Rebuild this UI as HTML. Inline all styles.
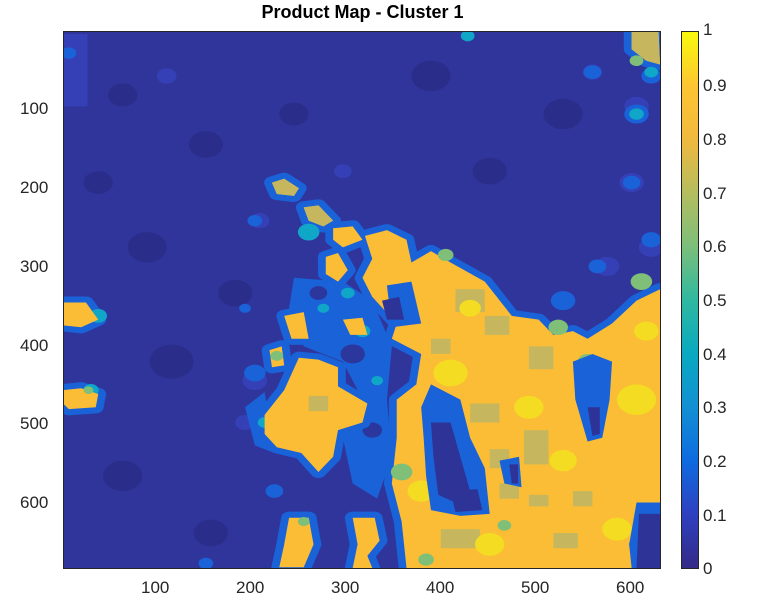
<!DOCTYPE html>
<html><head><style>
body{margin:0;background:#fff;width:769px;height:616px;overflow:hidden;font-family:"Liberation Sans",sans-serif;}
.t{position:absolute;font-size:17px;color:#262626;}
</style></head><body>
<div style="position:absolute;left:0;top:2px;width:725px;text-align:center;font-weight:bold;font-size:18px;color:#000;">Product Map - Cluster 1</div>
<svg style="position:absolute;left:63px;top:31px" width="597" height="537" viewBox="128 32 1220 1410" preserveAspectRatio="none">
<defs>
<g id="Y">
<path d="M128,745 L175,745 L200,790 L165,810 L128,805 Z"/>
<path d="M128,975 L165,970 L200,985 L195,1020 L140,1025 L128,1010 Z"/>
<path d="M555,430 L580,420 L610,445 L600,465 L565,460 Z"/>
<path d="M620,495 L650,490 L680,530 L660,545 L630,530 Z"/>
<path d="M680,550 L720,545 L740,580 L700,600 L680,580 Z"/>
<path d="M665,625 L690,615 L710,660 L690,690 L665,670 Z"/>
<path d="M580,780 L620,770 L630,840 L595,840 Z"/>
<path d="M700,790 L740,785 L750,830 L715,830 Z"/>
<path d="M550,870 L575,860 L580,910 L555,915 Z"/>
<path d="M540,1040 L580,975 L610,890 L650,895 L690,915 L690,965 L750,1010 L740,1060 L690,1080 L680,1150 L650,1190 L615,1140 L565,1125 L540,1090 Z"/>
<path d="M745,570 L790,555 L830,580 L840,640 L880,610 L920,640 L990,690 L1045,780 L1100,790 L1130,830 L1170,820 L1200,840 L1250,800 L1300,740 L1348,710 L1348,1442 L830,1442 L820,1320 L800,1220 L810,1100 L810,1000 L850,960 L860,880 L800,840 L810,800 L760,730 L740,680 L760,630 Z"/>
<path d="M590,1310 L630,1310 L640,1380 L620,1440 L570,1440 L580,1380 Z"/>
<path d="M720,1310 L765,1310 L775,1370 L750,1410 L760,1442 L720,1442 L730,1380 Z"/>
<path d="M1290,35 L1345,35 L1348,120 L1320,110 L1290,80 Z"/>
</g>
</defs>
<rect x="128" y="32" width="1220" height="1410" fill="#30359c"/>
<g fill="#292c86" opacity="0.8">
<circle cx="250" cy="200" r="30"/><circle cx="420" cy="330" r="35"/><circle cx="600" cy="250" r="30"/><circle cx="880" cy="150" r="40"/><circle cx="1000" cy="400" r="35"/><circle cx="300" cy="600" r="40"/><circle cx="350" cy="900" r="45"/><circle cx="250" cy="1200" r="40"/><circle cx="430" cy="1350" r="35"/><circle cx="1150" cy="250" r="40"/><circle cx="200" cy="430" r="30"/><circle cx="480" cy="720" r="35"/></g>
<g fill="#3843bd" opacity="0.8">
<rect x="128" y="40" width="50" height="190"/><circle cx="340" cy="150" r="20"/><circle cx="700" cy="400" r="18"/><circle cx="1210" cy="140" r="20"/><circle cx="1300" cy="230" r="25"/><circle cx="1290" cy="430" r="25"/><circle cx="1330" cy="600" r="25"/><circle cx="530" cy="530" r="20"/><circle cx="1240" cy="650" r="25"/><circle cx="520" cy="950" r="25"/><circle cx="500" cy="1060" r="20"/></g>
<g fill="#1a62d8">
<circle cx="1300" cy="250" r="25"/><circle cx="1210" cy="140" r="18"/><circle cx="1330" cy="150" r="20"/><circle cx="1290" cy="430" r="18"/><circle cx="1330" cy="580" r="20"/><circle cx="1220" cy="650" r="18"/><circle cx="1150" cy="740" r="25"/><circle cx="520" cy="530" r="15"/><circle cx="500" cy="760" r="12"/><circle cx="520" cy="930" r="22"/><circle cx="560" cy="1240" r="18"/><circle cx="420" cy="1430" r="15"/><circle cx="140" cy="90" r="15"/>
<path d="M600,680 L700,690 L760,740 L800,860 L790,1000 L800,1150 L770,1260 L720,1220 L700,1100 L740,1000 L700,900 L620,860 L590,760 Z"/>
<path d="M500,1020 L540,980 L560,1140 L520,1120 Z"/>
</g>
<g fill="#2e3397" opacity="0.9"><circle cx="720" cy="880" r="25"/><circle cx="760" cy="1080" r="20"/><circle cx="650" cy="720" r="18"/></g>
<use href="#Y" fill="#1a62d8" stroke="#1a62d8" stroke-width="32" stroke-linejoin="round"/>
<g fill="#10a6c8">
<circle cx="630" cy="560" r="22"/><circle cx="200" cy="780" r="18"/><circle cx="185" cy="975" r="16"/><circle cx="1000" cy="740" r="18"/><circle cx="1300" cy="250" r="15"/><circle cx="955" cy="45" r="14"/><circle cx="1330" cy="140" r="14"/><circle cx="1260" cy="1200" r="16"/><circle cx="540" cy="1060" r="14"/><circle cx="740" cy="820" r="16"/><circle cx="1040" cy="1140" r="14"/><circle cx="710" cy="720" r="14"/><circle cx="1290" cy="1290" r="14"/><circle cx="660" cy="760" r="12"/><circle cx="770" cy="950" r="12"/>
</g>
<use href="#Y" fill="#fbbd35"/>
<g fill="#c6b75f">
<path d="M555,430 L580,420 L610,445 L600,465 L565,460 Z"/><path d="M620,495 L650,490 L680,530 L660,545 L630,530 Z"/><path d="M1290,35 L1345,35 L1348,120 L1320,110 L1290,80 Z"/>
<rect x="930" y="710" width="60" height="60"/><rect x="1130" y="1350" width="50" height="40"/><rect x="1000" y="1130" width="40" height="50"/><rect x="1070" y="1080" width="50" height="90"/><rect x="960" y="1010" width="60" height="50"/><rect x="1080" y="860" width="50" height="60"/><rect x="630" y="990" width="40" height="40"/><rect x="900" y="1340" width="80" height="50"/><rect x="1170" y="1240" width="40" height="40"/><rect x="880" y="840" width="40" height="40"/><rect x="990" y="780" width="50" height="50"/><rect x="1020" y="1220" width="40" height="40"/><rect x="1080" y="1250" width="40" height="30"/>
</g>
<g fill="#7fbf78"><circle cx="1140" cy="810" r="20"/><circle cx="565" cy="885" r="13"/><circle cx="820" cy="1190" r="22"/><circle cx="1310" cy="690" r="22"/><circle cx="1200" cy="900" r="20"/><circle cx="180" cy="975" r="10"/><circle cx="910" cy="620" r="16"/><circle cx="620" cy="1320" r="12"/><circle cx="1300" cy="1380" r="16"/><circle cx="1300" cy="110" r="14"/><circle cx="1030" cy="1330" r="14"/><circle cx="870" cy="1420" r="16"/></g>
<g fill="#f3dc22">
<circle cx="920" cy="930" r="35"/><circle cx="1080" cy="1020" r="30"/><circle cx="1300" cy="1000" r="40"/><circle cx="1260" cy="1340" r="30"/><circle cx="860" cy="1240" r="28"/><circle cx="1150" cy="1160" r="28"/><circle cx="1000" cy="1380" r="30"/><circle cx="960" cy="760" r="22"/><circle cx="1320" cy="820" r="25"/></g>
<g fill="#1a62d8">
<path d="M1170,900 L1210,880 L1250,900 L1245,1000 L1230,1100 L1200,1110 L1175,1000 Z"/>
<path d="M1300,1270 L1348,1270 L1348,1442 L1290,1442 L1285,1380 Z"/>
<path d="M860,1020 L880,960 L940,1000 L960,1100 L990,1180 L1000,1300 L940,1305 L880,1290 L870,1200 L865,1100 Z"/>
<path d="M790,700 L840,690 L860,800 L800,810 Z"/>
<path d="M1020,1160 L1060,1150 L1065,1230 L1030,1220 Z"/>
</g>
<g fill="#2e3397">
<path d="M880,1060 L920,1060 L940,1150 L960,1240 L930,1270 L895,1250 L885,1150 Z"/>
<path d="M920,1240 L975,1235 L985,1290 L930,1295 Z"/>
<path d="M1040,1170 L1058,1170 L1058,1220 L1045,1220 Z"/>
<path d="M1305,1300 L1348,1300 L1348,1442 L1300,1442 Z"/>
<path d="M780,740 L815,730 L825,790 L790,790 Z"/>
<path d="M1200,1020 L1225,1020 L1225,1090 L1210,1095 Z"/>
</g>
</svg>
<div style="position:absolute;left:63px;top:31px;width:596px;height:536px;border:1px solid #262626;"></div>
<div style="position:absolute;left:681px;top:31px;width:16px;height:536px;border:1px solid #262626;background:linear-gradient(to top,#352a87 0%,#2e40c0 10%,#0f6be0 20%,#1390d4 30%,#09a9c0 40%,#2fb8a0 50%,#7cbf7a 60%,#b5bd5f 70%,#f0b93e 80%,#fdc531 90%,#f8fa0d 100%);"></div>
<div class="t" style="left:703px;top:20px">1</div>
<div class="t" style="left:703px;top:76px">0.9</div>
<div class="t" style="left:703px;top:130px">0.8</div>
<div class="t" style="left:703px;top:184px">0.7</div>
<div class="t" style="left:703px;top:237px">0.6</div>
<div class="t" style="left:703px;top:291px">0.5</div>
<div class="t" style="left:703px;top:345px">0.4</div>
<div class="t" style="left:703px;top:398px">0.3</div>
<div class="t" style="left:703px;top:452px">0.2</div>
<div class="t" style="left:703px;top:506px">0.1</div>
<div class="t" style="left:703px;top:559px">0</div>
<div class="t" style="left:20px;top:99px">100</div>
<div class="t" style="left:20px;top:178px">200</div>
<div class="t" style="left:20px;top:257px">300</div>
<div class="t" style="left:20px;top:336px">400</div>
<div class="t" style="left:20px;top:414px">500</div>
<div class="t" style="left:20px;top:493px">600</div>
<div class="t" style="left:141px;top:578px">100</div>
<div class="t" style="left:236px;top:578px">200</div>
<div class="t" style="left:331px;top:578px">300</div>
<div class="t" style="left:426px;top:578px">400</div>
<div class="t" style="left:521px;top:578px">500</div>
<div class="t" style="left:616px;top:578px">600</div>
</body></html>
